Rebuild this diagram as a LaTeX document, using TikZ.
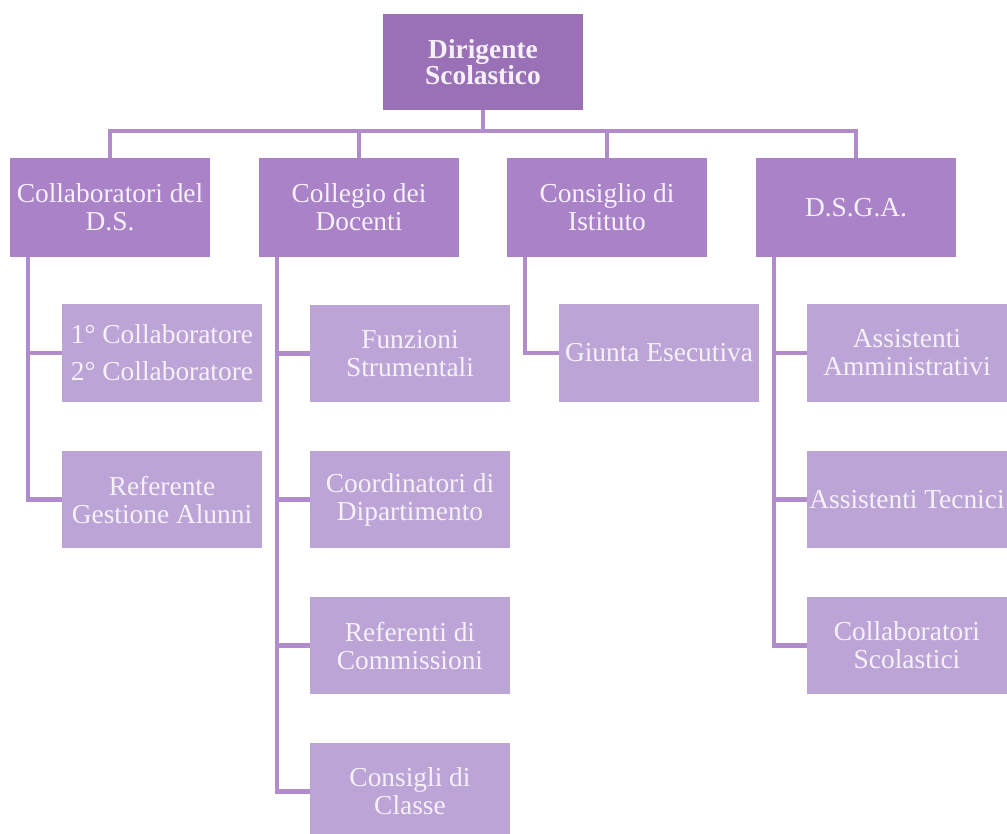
\documentclass[tikz,border=0pt]{standalone}
\usepackage{fontspec}
\setmainfont{Liberation Serif}
\begin{document}
\begin{tikzpicture}[x=1pt,y=-1pt,
  box/.style={rectangle, inner sep=0pt, minimum width=200pt, minimum height=97pt,
    align=center, text=boxtext, font=\fontsize{27.4}{28}\selectfont},
  headbox/.style={box, fill=headfill, font=\fontsize{27.4}{26}\selectfont\bfseries, minimum height=96pt},
  midbox/.style={box, fill=midfill, minimum height=99pt},
  leafbox/.style={box, fill=leaffill},
  conn/.style={draw=linecol, line width=4.5pt}]
\definecolor{headfill}{RGB}{154,112,182}
\definecolor{midfill}{RGB}{170,130,200}
\definecolor{leaffill}{RGB}{188,164,214}
\definecolor{linecol}{RGB}{176,140,204}
\definecolor{boxtext}{RGB}{246,241,249}
\clip (0,0) rectangle (1007,834);
\fill[white] (0,0) rectangle (1007,834);

% head
\node[headbox] (ds) at (483,62) {Dirigente\\Scolastico};

% second level
\node[midbox] (c1) at (110,207.5) {Collaboratori del\\D.S.};
\node[midbox] (c2) at (359,207.5) {Collegio dei\\Docenti};
\node[midbox] (c3) at (607,207.5) {Consiglio di\\Istituto};
\node[midbox] (c4) at (856,207.5) {D.S.G.A.};

% third level
\node[leafbox] (s11) at (162,353) {1° Collaboratore\\[9pt]2° Collaboratore};
\node[leafbox] (s12) at (162,499.5) {Referente\\Gestione Alunni};

\node[leafbox] (s21) at (410,353.5) {Funzioni\\Strumentali};
\node[leafbox] (s22) at (410,499.5) {Coordinatori di\\Dipartimento};
\node[leafbox] (s23) at (410,645.5) {Referenti di\\Commissioni};
\node[leafbox] (s24) at (410,791.5) {Consigli di\\Classe};

\node[leafbox] (s31) at (659,353) {Giunta Esecutiva};

\node[leafbox] (s41) at (907,353) {Assistenti\\Amministrativi};
\node[leafbox] (s42) at (907,499.5) {Assistenti Tecnici};
\node[leafbox] (s43) at (907,645.5) {Collaboratori\\Scolastici};

% connectors from the head
\foreach \c in {c1,c2,c3,c4}
  \draw[conn] (ds.south) -- ++(0,21) -| (\c.north);

% connectors to the third level
\foreach \p/\c in {c1/s11,c1/s12,c2/s21,c2/s22,c2/s23,c2/s24,c3/s31,c4/s41,c4/s42,c4/s43}
  \draw[conn] ([xshift=18pt]\p.south west) |- (\c.west);
\end{tikzpicture}
\end{document}
